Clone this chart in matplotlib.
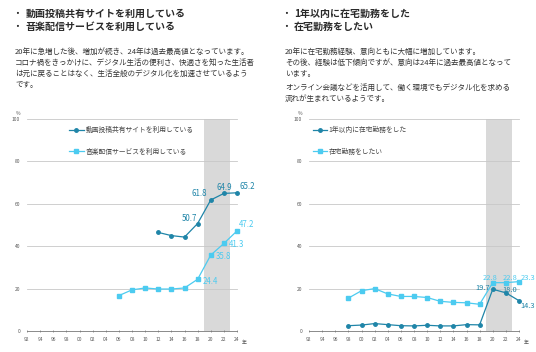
import matplotlib
matplotlib.use("Agg")
import matplotlib.pyplot as plt

plt.rcParams['font.family'] = ['Noto Sans CJK JP', 'DejaVu Sans']

# data
years_tick = list(range(1992, 2025, 2))
tick_labels = ['92', '94', '96', '98', '00', '02', '04', '06', '08', '10',
               '12', '14', '16', '18', '20', '22', '24']

video_years = [2012, 2014, 2016, 2018, 2020, 2022, 2024]
video_vals = [46.5, 45.0, 44.3, 50.7, 61.8, 64.9, 65.2]

music_years = [2006, 2008, 2010, 2012, 2014, 2016, 2018, 2020, 2022, 2024]
music_vals = [16.7, 19.4, 20.3, 19.8, 19.8, 20.3, 24.4, 35.8, 41.3, 47.2]

remote_years = [1998, 2000, 2002, 2004, 2006, 2008, 2010, 2012, 2014, 2016,
                2018, 2020, 2022, 2024]
remote_did = [2.5, 2.8, 3.5, 3.0, 2.5, 2.4, 2.7, 2.4, 2.4, 3.0, 2.9, 19.7, 18.0, 14.3]
remote_want = [15.5, 19.0, 20.0, 17.5, 16.3, 16.3, 15.8, 14.0, 13.5, 13.3, 12.6,
               22.8, 22.8, 23.3]

DARK = '#1f85a8'
LIGHT = '#4ccbf0'
W, H = 536, 352


def px(x, y):
    return x / W, 1 - y / H


def base_axes(left_px):
    ax = fig.add_axes([left_px / W, 21 / H, 210 / W, 212 / H])
    ax.set_xlim(1992, 2024)
    ax.set_ylim(0, 100)
    ax.axvspan(2019, 2023, color='#d9d9d9', zorder=0, lw=0)
    for y in [20, 40, 60, 80, 100]:
        ax.axhline(y, color='#c8c8c8', lw=0.6, zorder=1, clip_on=False)
    for s in ['top', 'right', 'left']:
        ax.spines[s].set_visible(False)
    ax.spines['bottom'].set_color('#777777')
    ax.spines['bottom'].set_linewidth(0.6)
    ax.set_xticks(years_tick)
    ax.set_xticklabels(tick_labels)
    ax.set_yticks([0, 20, 40, 60, 80, 100])
    ax.tick_params(axis='x', direction='inout', length=2, width=0.5, color='#777777',
                   labelsize=3.5, labelcolor='#555555', pad=3)
    ax.tick_params(axis='y', length=0, labelsize=3.5, labelcolor='#555555', pad=5)
    ax.text(2024.8, -5.6, '年', fontsize=3.5, color='#555555', va='center', clip_on=False)
    ax.text(-0.03, 102.5, '%', transform=ax.get_yaxis_transform(), fontsize=3.5,
            color='#555555', ha='right', va='center')
    return ax


def label(ax, x, y, s, dx, dy, color, ha='center', size=5.7):
    ax.annotate(s, (x, y), xytext=(dx * 0.72, dy * 0.72), textcoords='offset points',
                fontsize=size, color=color, ha=ha, va='center', zorder=5,
                annotation_clip=False)


fig = plt.figure(figsize=(5.36, 3.52), dpi=100)

# titles and body text
TS = 7.2
fig.text(*px(12, 14), '・', fontsize=TS, color='#222222', va='center')
fig.text(*px(26, 14), '動画投稿共有サイトを利用している', fontsize=TS, weight='bold',
         color='#2a2a2a', va='center')
fig.text(*px(12, 27), '・', fontsize=TS, color='#222222', va='center')
fig.text(*px(26, 27), '音楽配信サービスを利用している', fontsize=TS, weight='bold',
         color='#2a2a2a', va='center')

fig.text(*px(281, 14), '・', fontsize=TS, color='#222222', va='center')
fig.text(*px(294, 14), '1年以内に在宅勤務をした', fontsize=TS, weight='bold',
         color='#2a2a2a', va='center')
fig.text(*px(281, 27), '・', fontsize=TS, color='#222222', va='center')
fig.text(*px(294, 27), '在宅勤務をしたい', fontsize=TS, weight='bold',
         color='#2a2a2a', va='center')

left_lines = ['20年に急増した後、増加が続き、24年は過去最高値となっています。',
              'コロナ禍をきっかけに、デジタル生活の便利さ、快適さを知った生活者',
              'は元に戻ることはなく、生活全般のデジタル化を加速させているよう',
              'です。']
for i, s in enumerate(left_lines):
    fig.text(*px(15, 52 + i * 11), s, fontsize=5.45, color='#333333', va='center')

right_lines = ['20年に在宅勤務経験、意向ともに大幅に増加しています。',
               'その後、経験は低下傾向ですが、意向は24年に過去最高値となって',
               'います。',
               'オンライン会議などを活用して、働く環境でもデジタル化を求める',
               '流れが生まれているようです。']
right_y = [52, 63, 74, 88, 99]
for s, y in zip(right_lines, right_y):
    fig.text(*px(285, y), s, fontsize=5.45, color='#333333', va='center')

# left chart
ax1 = base_axes(27)
ax1.plot(video_years, video_vals, color=DARK, lw=0.9, marker='o', ms=2.5, zorder=3,
         clip_on=False, label='動画投稿共有サイトを利用している')
ax1.plot(music_years, music_vals, color=LIGHT, lw=0.9, marker='s', ms=2.5, zorder=3,
         clip_on=False, label='音楽配信サービスを利用している')
label(ax1, 2018, 50.7, '50.7', -8, 5, DARK)
label(ax1, 2020, 61.8, '61.8', -11, 6, DARK)
label(ax1, 2022, 64.9, '64.9', 0, 6, DARK)
label(ax1, 2024, 65.2, '65.2', 10, 6, DARK)
label(ax1, 2018, 24.4, '24.4', 5, -2, LIGHT, ha='left')
label(ax1, 2020, 35.8, '35.8', 5, -1, LIGHT, ha='left')
label(ax1, 2022, 41.3, '41.3', 5, -1, LIGHT, ha='left')
label(ax1, 2024, 47.2, '47.2', 10, 6, LIGHT)
ax1.legend(loc='upper left', bbox_to_anchor=(0.17, 0.995), frameon=False,
           fontsize=4.9, handlelength=2.2, labelspacing=2.0, handletextpad=0.3,
           labelcolor='#444444')

# right chart
ax2 = base_axes(309)
ax2.plot(remote_years, remote_did, color=DARK, lw=0.9, marker='o', ms=2.5, zorder=3,
         clip_on=False, label='1年以内に在宅勤務をした')
ax2.plot(remote_years, remote_want, color=LIGHT, lw=0.9, marker='s', ms=2.5, zorder=3,
         clip_on=False, label='在宅勤務をしたい')
label(ax2, 2020, 19.7, '19.7', -10, 1, DARK, size=5.4)
label(ax2, 2022, 18.0, '18.0', 4, 3, DARK, size=5.4)
label(ax2, 2024, 14.3, '14.3', 9, -5, DARK, size=5.4)
label(ax2, 2020, 22.8, '22.8', -3, 5, LIGHT, size=5.4)
label(ax2, 2022, 22.8, '22.8', 4, 5, LIGHT, size=5.4)
label(ax2, 2024, 23.3, '23.3', 9, 4, LIGHT, size=5.4)
ax2.legend(loc='upper left', bbox_to_anchor=(-0.01, 0.995), frameon=False,
           fontsize=4.9, handlelength=2.0, labelspacing=2.0, handletextpad=0.3,
           labelcolor='#444444')

fig.savefig('out.png', dpi=100)
